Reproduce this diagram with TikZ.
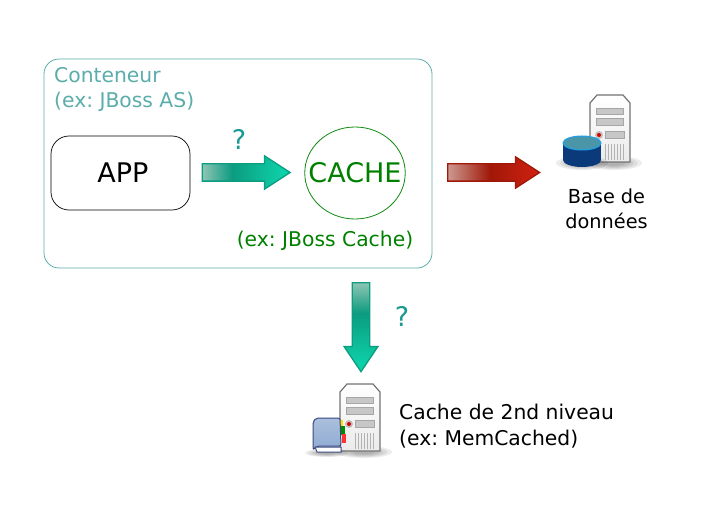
\documentclass[tikz,border=0pt]{standalone}
\usepackage{fontspec}
\usepackage{tikz}
\usetikzlibrary{shapes.geometric,shapes.arrows}
\setmainfont{DejaVu Sans}
\frenchspacing
\definecolor{boxteal}{HTML}{5AADAA}
\definecolor{qteal}{HTML}{1A9A90}
\definecolor{cachegreen}{HTML}{108A10}
\definecolor{cachetext}{HTML}{008000}
\definecolor{tealline}{HTML}{0C9C80}
\definecolor{redline}{HTML}{A01808}
\definecolor{tealstart}{HTML}{8FC4B4}
\definecolor{tealend}{HTML}{0DCFA8}
\definecolor{redstart}{HTML}{CC9A92}
\definecolor{redend}{HTML}{CC2010}
\definecolor{dbblue}{HTML}{0A3A7A}
\definecolor{dbrim}{HTML}{1FA0E8}
\definecolor{dbtop}{HTML}{4A96A8}
\definecolor{bookline}{HTML}{3A4A80}
\definecolor{bookblue}{HTML}{8FAAD2}
\pgfdeclarehorizontalshading{tealshade}{100bp}{color(0bp)=(tealstart);color(25bp)=(tealstart);color(42bp)=(tealline);color(70bp)=(tealend);color(100bp)=(tealend)}
\pgfdeclarehorizontalshading{redshade}{100bp}{color(0bp)=(redstart);color(25bp)=(redstart);color(48bp)=(redline);color(72bp)=(redend);color(100bp)=(redend)}
\newcommand{\softshadow}[4]{
    \foreach \k in {0.4,0.55,0.7,0.85,1} {
        \fill[black,opacity=0.07] (#1,#2) ellipse ({#3*\k} and {#4*\k});
    }
}
\tikzset{
    txt/.style={font=\fontsize{20.3}{25.5}\selectfont,inner sep=0pt},
    bigtxt/.style={font=\fontsize{27}{32}\selectfont,inner sep=0pt},
    blockarrow/.style={single arrow,inner sep=0pt,line width=1.3pt,anchor=tail,
        text height=16pt,text depth=0pt,
        single arrow head extend=8pt,minimum width=32pt,single arrow tip angle=66},
    tealarrow/.style={blockarrow,draw=tealline,shading=tealshade},
    redarrow/.style={blockarrow,draw=redline,shading=redshade},
    servericon/.pic={
        \draw[black!55,line width=1.2pt,top color=white,bottom color=black!8]
            (0,8) -- (7,0) -- (33,0) -- (40,8) -- (40,67) -- (0,67) -- cycle;
        \draw[black!35,fill=black!22] (6,13) rectangle (33,19);
        \draw[black!35,fill=black!22] (6,23) rectangle (33,30);
        \draw[black!35,fill=black!22] (15,36) rectangle (34,43);
        \fill[black!25] (9,40) circle (4);
        \fill[red!85!black] (9,40) circle (2);
        \foreach \x in {15,18,...,33} {
            \draw[black!30,line width=0.8pt] (\x,49) -- (\x,65);
        }
    },
}
\begin{document}
\begin{tikzpicture}[x=1pt,y=-1pt]
    \useasboundingbox (0,0) rectangle (718,508);
    % conteneur
    \node[draw=boxteal,rounded corners=15pt,line width=0.8pt,minimum width=388pt,minimum height=209pt,inner sep=0pt] (conteneur) at (238,163.5) {};
    \node[txt,text=boxteal,anchor=west,align=left] (conteneurlabel) at (54,89.5) {Conteneur\\(ex: JBoss AS)};
    % app et cache
    \node[draw=black,rounded corners=18pt,line width=0.7pt,minimum width=139pt,minimum height=74pt,bigtxt] (app) at (120.5,173) {\hspace*{5pt}APP};
    \node[draw=cachegreen,ellipse,line width=0.8pt,minimum width=100pt,minimum height=92pt,bigtxt,inner xsep=-11pt,text=cachetext] (cache) at (355,173) {CACHE};
    \node[txt,text=cachetext] (cachelabel) at (325,241) {(ex: JBoss Cache)};
    % fleches
    \node[tealarrow,minimum height=88pt] (arrowapp) at (201.5,172.5) {};
    \node[redarrow,minimum height=92pt,minimum width=30pt,single arrow head extend=7pt] (arrowdb) at (447,172.5) {};
    \node[tealarrow,text height=0pt,text width=16pt,shape border rotate=270,shading angle=-90,minimum height=89pt,minimum width=34pt,single arrow tip angle=68] (arrowcache) at (361,282) {};
    \node[bigtxt,text=qteal] (qapp) at (239,139) {?};
    \node[bigtxt,text=qteal] (qcache) at (402,316) {?};
    % base de donnees
    \softshadow{614}{163}{28}{7}
    \pic at (590,95) {servericon};
    \softshadow{582}{163}{26}{7}
    \fill[dbblue] (582,160) ellipse (19 and 7);
    \fill[dbblue] (563,143) rectangle (601,160);
    \draw[line width=1pt,draw=dbrim,fill=dbtop] (582,143) ellipse (19 and 7);
    \node[txt,font=\fontsize{19.3}{25}\selectfont,align=center] (dblabel) at (606.5,208.5) {Base de\\données};
    % cache de 2nd niveau
    \softshadow{364}{452}{28}{6}
    \pic at (340,384) {servericon};
    \fill[yellow!80!orange] (339,420) rectangle (343,428);
    \fill[green!55!black] (341,426) rectangle (345,435);
    \fill[red!80!white] (342,434) rectangle (346,443);
    \softshadow{327}{453}{22}{4}
    \draw[line width=1pt,draw=bookline,top color=bookblue!75!white,bottom color=bookblue,rounded corners=2pt] (316,418) -- (340,418) -- (341,446) -- (317,446) -- (313,450) -- (313,422) -- cycle;
    \draw[line width=1pt,draw=bookline,fill=white] (315,447) -- (341,447) -- (341,452) -- (317,452) -- cycle;
    \node[txt,anchor=west,align=left] (cachedeux) at (399,426) {Cache de 2nd niveau\\(ex: MemCached)};
\end{tikzpicture}
\end{document}
